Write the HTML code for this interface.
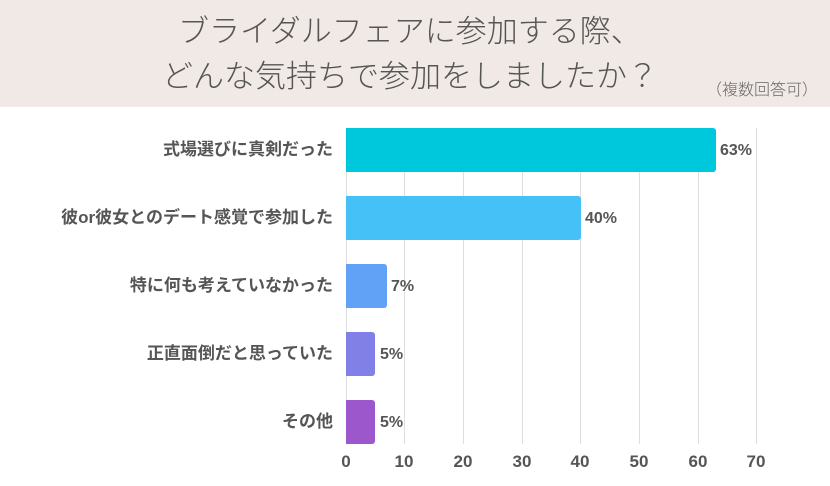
<!DOCTYPE html>
<html><head><meta charset="utf-8"><style>
body{margin:0;width:830px;height:486px;background:#fff;font-family:"Liberation Sans","Noto Sans CJK JP",sans-serif;position:relative;overflow:hidden}
.hd{position:absolute;left:0;top:0;width:830px;height:107px;background:#f0e9e5}
.t{position:absolute;font-family:"Liberation Sans","Noto Sans CJK JP",sans-serif;font-weight:300;font-size:31px;color:#555;white-space:nowrap;line-height:1}
.s{position:absolute;left:706px;top:76px;font-size:16px;color:#666;font-family:"Liberation Sans","Noto Sans CJK JP",sans-serif;font-weight:300}
.g{position:absolute;top:128px;height:316px;width:1px;background:#dedede}
.b{position:absolute;left:346px;height:44px;border-radius:0 3px 3px 0}
.l{position:absolute;right:497px;font-size:17px;font-weight:bold;color:#555;white-space:nowrap;line-height:44px}
.v{position:absolute;font-size:16px;font-weight:bold;color:#555;line-height:44px}
.x{position:absolute;top:452px;width:40px;margin-left:-20px;text-align:center;font-size:17px;font-weight:bold;color:#555}
</style></head><body>
<div class="hd"></div>
<div class="t" style="left:178px;top:16px">ブライダルフェアに参加する際、</div>
<div class="t" style="left:162px;top:61px">どんな気持ちで参加をしましたか？</div>
<div class="s">（複数回答可）</div>
<div class="g" style="left:346px"></div><div class="g" style="left:404px"></div><div class="g" style="left:463px"></div><div class="g" style="left:522px"></div><div class="g" style="left:580px"></div><div class="g" style="left:639px"></div><div class="g" style="left:698px"></div><div class="g" style="left:756px"></div>
<div class="b" style="top:128px;width:370px;background:#00c8dc"></div>
<div class="b" style="top:196px;width:235px;background:#45c1f7"></div>
<div class="b" style="top:264px;width:41px;background:#62a2f6"></div>
<div class="b" style="top:332px;width:29px;background:#8080e6"></div>
<div class="b" style="top:400px;width:29px;background:#9c57cc"></div>
<div class="l" style="top:128px">式場選びに真剣だった</div>
<div class="l" style="top:196px">彼or彼女とのデート感覚で参加した</div>
<div class="l" style="top:264px">特に何も考えていなかった</div>
<div class="l" style="top:332px">正直面倒だと思っていた</div>
<div class="l" style="top:400px">その他</div>
<div class="v" style="top:129px;left:720px">63%</div>
<div class="v" style="top:197px;left:585px">40%</div>
<div class="v" style="top:265px;left:391px">7%</div>
<div class="v" style="top:333px;left:380px">5%</div>
<div class="v" style="top:401px;left:380px">5%</div>
<div class="x" style="left:346px">0</div><div class="x" style="left:404px">10</div><div class="x" style="left:463px">20</div><div class="x" style="left:522px">30</div><div class="x" style="left:580px">40</div><div class="x" style="left:639px">50</div><div class="x" style="left:698px">60</div><div class="x" style="left:756px">70</div>
</body></html>
